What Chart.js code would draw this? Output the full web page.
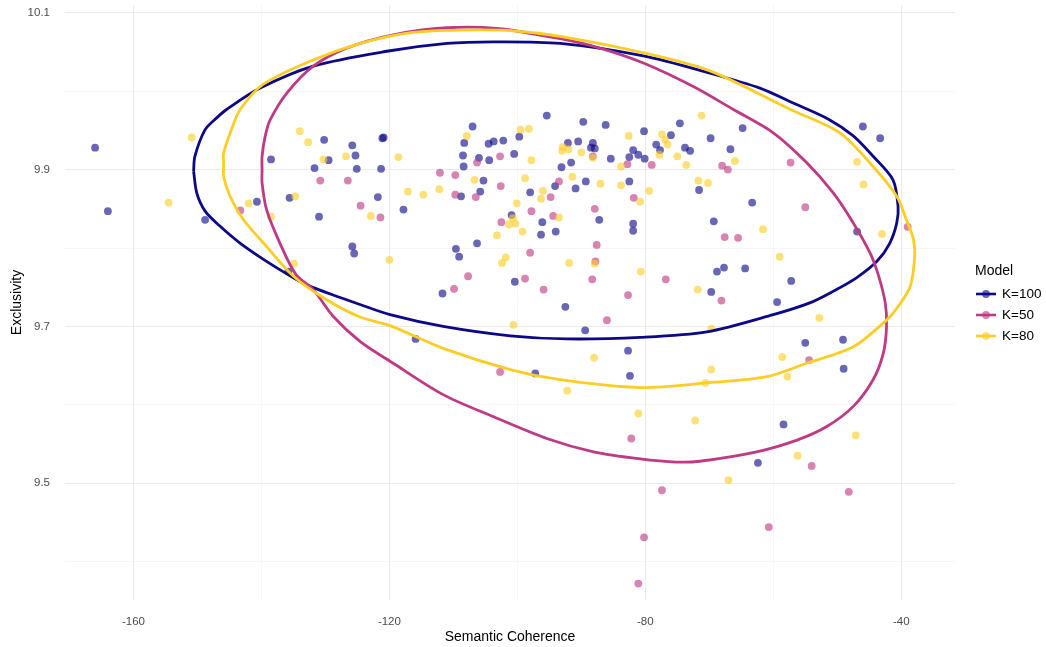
<!DOCTYPE html>
<html>
<head>
<meta charset="utf-8">
<script src="https://cdn.jsdelivr.net/npm/chart.js@4.4.0/dist/chart.umd.min.js"></script>
<style>
  body { margin: 0; background: #fff; font-family: "Liberation Sans", Arial, sans-serif; }
  #wrap { position: relative; width: 1046px; height: 647px; }
  #legend { position: absolute; left: 975px; top: 261px; }
  #legend .ttl { font-size: 14px; color: #000; height: 22px; line-height: 18px; }
  #legend .item { height: 21px; display: flex; align-items: center; font-size: 13.5px; color: #000; }
  #legend svg { margin-right: 5px; }
</style>
</head>
<body>
<div id="wrap">
  <canvas id="myChart" width="1046" height="647"></canvas>
  <div id="legend"><div class="ttl">Model</div></div>
</div>
<script>
// ---------------- data ----------------
const models = ["K=100", "K=50", "K=80"];
const colors = ["#0D0887", "#BF3984", "#FCCE25"];
const pointColors = ["rgba(13,8,135,0.62)", "rgba(191,57,132,0.62)", "rgba(252,206,37,0.62)"];

const xTicks = [-160, -140, -120, -100, -80, -60, -40];
const xLabels = [-160, -120, -80, -40];
const yTicks = [9.4, 9.5, 9.6, 9.7, 9.8, 9.9, 10.0, 10.1];
const yLabels = [9.5, 9.7, 9.9, 10.1];

// topics, K=100
const k100X = [-166.0,-130.2,-125.8,-125.3,-129.5,-138.5,-131.7,-125.1,-164.0,-140.7,
  -135.6,-148.8,-131.0,-125.8,-125.5,-135.8,-95.4,-107.0,-89.7,-86.2,
  -121.1,-120.9,-108.3,-104.5,-103.7,-102.2,-99.7,-92.1,-90.5,-88.2,
  -88.5,-87.9,-100.5,-108.5,-106.0,-104.4,-85.4,-82.5,-81.9,-81.1,
  -91.6,-93.1,-121.3,-108.4,-105.3,-89.3,-82.5,-94.1,-90.9,-105.8,
  -108.8,-98.0,-121.8,-117.8,-100.9,-96.1,-96.3,-94.0,-87.2,-81.9,
  -81.9,-106.3,-109.6,-109.1,-100.4,-111.7,-92.5,-89.4,-115.9,-82.7,
  -97.2,-82.4,-80.2,-74.6,-76.0,-78.3,-77.7,-80.1,-73.8,-73.0,
  -69.8,-64.8,-66.7,-46.0,-43.3,-71.6,-63.3,-69.3,-46.9,-68.8,
  -67.7,-64.4,-57.2,-69.7,-59.4,-55.0,-49.1,-49.0,-58.4,-62.4];
const k100Y = [9.928,9.938,9.931,9.918,9.912,9.913,9.902,9.901,9.847,9.859,
  9.864,9.836,9.840,9.802,9.793,9.770,9.969,9.955,9.961,9.957,
  9.940,9.941,9.934,9.933,9.936,9.937,9.942,9.934,9.936,9.934,
  9.928,9.927,9.920,9.918,9.915,9.912,9.914,9.916,9.925,9.919,
  9.909,9.903,9.901,9.904,9.886,9.885,9.885,9.879,9.876,9.872,
  9.866,9.871,9.865,9.849,9.842,9.833,9.817,9.821,9.836,9.831,
  9.822,9.806,9.799,9.789,9.757,9.742,9.725,9.695,9.684,9.669,
  9.640,9.637,9.949,9.959,9.944,9.932,9.925,9.914,9.928,9.924,
  9.940,9.953,9.926,9.955,9.940,9.874,9.858,9.834,9.821,9.770,
  9.775,9.774,9.758,9.744,9.731,9.679,9.683,9.646,9.575,9.526];

// topics, K=50
const k50X = [-130.8,-126.5,-143.3,-124.5,-106.3,-102.7,-88.2,-82.8,-112.1,-109.7,
  -93.5,-102.6,-109.7,-106.5,-94.8,-81.8,-121.4,-97.8,-102.5,-94.4,
  -87.9,-87.6,-98.0,-87.8,-107.7,-98.8,-88.3,-109.9,-95.9,-82.7,
  -86.0,-102.7,-82.2,-79.0,-68.0,-67.1,-57.3,-55.0,-67.6,-65.5,
  -39.0,-76.8,-68.1,-54.4,-77.4,-80.2,-81.1,-54.0,-48.2,-60.7];
const k50Y = [9.886,9.886,9.848,9.854,9.909,9.917,9.917,9.907,9.896,9.893,
  9.885,9.879,9.868,9.865,9.865,9.864,9.839,9.847,9.833,9.841,
  9.850,9.804,9.794,9.783,9.764,9.761,9.760,9.748,9.747,9.740,
  9.708,9.642,9.557,9.906,9.905,9.900,9.909,9.852,9.814,9.813,
  9.827,9.760,9.733,9.657,9.491,9.431,9.372,9.522,9.489,9.444];

// topics, K=80
const k80X = [-150.9,-134.0,-132.7,-126.8,-130.3,-154.5,-142.0,-134.7,-138.5,-134.9,
  -107.9,-99.5,-98.2,-82.6,-92.9,-93.0,-92.0,-90.0,-118.6,-97.8,
  -88.2,-83.8,-106.7,-98.8,-91.4,-87.0,-83.8,-117.1,-114.7,-112.2,
  -96.0,-96.3,-80.8,-122.9,-100.1,-100.7,-101.3,-100.3,-99.2,-93.5,
  -103.2,-120.0,-101.8,-102.4,-91.9,-87.9,-80.7,-100.6,-88.0,-92.2,
  -81.1,-71.2,-77.4,-76.9,-76.5,-77.8,-75.0,-73.6,-66.0,-46.9,
  -45.9,-71.7,-70.2,-79.4,-61.6,-43.0,-59.0,-71.8,-52.8,-69.7,
  -58.6,-69.7,-57.8,-70.6,-72.2,-47.1,-56.2,-67.0];
const k80Y = [9.941,9.949,9.935,9.917,9.913,9.858,9.857,9.866,9.840,9.780,
  9.943,9.951,9.952,9.943,9.929,9.924,9.926,9.922,9.916,9.912,
  9.915,9.904,9.887,9.889,9.891,9.882,9.880,9.872,9.868,9.875,
  9.873,9.863,9.859,9.841,9.857,9.838,9.830,9.831,9.821,9.839,
  9.816,9.785,9.788,9.781,9.781,9.780,9.770,9.702,9.660,9.618,
  9.589,9.969,9.945,9.938,9.932,9.919,9.917,9.906,9.911,9.910,
  9.881,9.886,9.883,9.873,9.824,9.818,9.789,9.747,9.711,9.697,
  9.661,9.645,9.636,9.628,9.580,9.561,9.535,9.504];

// ellipse outlines
const ell100X = [-150.6,-150.4,-148.8,-147.0,-145.4,-140.2,-131.9,-120.4,-111.0,-103.8,
  -93.3,-80.3,-69.9,-62.1,-56.9,-51.3,-47.5,-44.4,-41.3,-40.5,
  -40.7,-41.8,-43.8,-47.0,-50.6,-54.3,-60.0,-70.4,-80.8,-92.3,
  -101.1,-111.6,-119.9,-124.6,-128.8,-132.9,-135.0,-139.2,-143.3,-146.5,-148.8,-150.1];
const ell100Y = [9.898,9.917,9.951,9.966,9.977,10.004,10.032,10.051,10.061,10.063,
  10.061,10.045,10.023,10.004,9.985,9.964,9.943,9.917,9.887,9.853,
  9.832,9.806,9.783,9.762,9.745,9.730,9.715,9.693,9.686,9.684,
  9.688,9.700,9.715,9.728,9.740,9.753,9.762,9.783,9.806,9.828,9.847,9.870];

const ell50X = [-139.9,-139.9,-139.4,-138.6,-136.0,-131.9,-126.7,-119.4,-111.0,-103.2,
  -93.3,-87.1,-80.3,-72.5,-66.3,-60.0,-54.8,-50.6,-47.5,-44.9,
  -43.6,-42.5,-42.3,-42.8,-44.4,-47.5,-51.7,-56.3,-62.6,-71.5,
  -75.1,-80.8,-88.1,-95.4,-103.8,-111.6,-119.4,-124.6,-128.8,-131.9,
  -134.6,-137.1,-139.2,-139.9];
const ell50Y = [9.900,9.917,9.943,9.964,9.998,10.032,10.055,10.072,10.081,10.080,
  10.067,10.055,10.036,10.006,9.977,9.947,9.909,9.870,9.832,9.794,
  9.766,9.730,9.700,9.666,9.632,9.598,9.572,9.555,9.540,9.528,
  9.527,9.531,9.540,9.557,9.585,9.613,9.653,9.681,9.713,9.747,
  9.766,9.806,9.849,9.883];

const ell80X = [-145.9,-145.9,-144.6,-143.3,-139.7,-131.9,-124.1,-116.3,-108.4,-100.6,
  -93.3,-80.3,-69.9,-57.4,-49.6,-44.4,-40.7,-39.2,-38.1,
  -37.9,-38.6,-40.7,-42.3,-47.5,-54.8,-61.0,-70.4,-80.8,-93.3,-101.1,
  -111.6,-119.9,-124.6,-129.8,-135.0,-139.2,-142.8,-144.9,-145.9];
const ell80Y = [9.906,9.921,9.953,9.977,10.009,10.040,10.062,10.075,10.078,10.077,
  10.070,10.049,10.026,9.977,9.947,9.904,9.866,9.836,9.811,
  9.789,9.751,9.723,9.708,9.674,9.653,9.636,9.628,9.622,9.632,9.645,
  9.672,9.701,9.712,9.734,9.764,9.802,9.836,9.866,9.891];

// ---------------- chart ----------------
const pts = (xs, ys) => xs.map((x, i) => ({ x: x, y: ys[i] }));
const loop = (xs, ys) => { const p = pts(xs, ys); p.push(p[0]); return p; };

const pointSets = [pts(k100X, k100Y), pts(k50X, k50Y), pts(k80X, k80Y)];
const ellipseSets = [loop(ell100X, ell100Y), loop(ell50X, ell50Y), loop(ell80X, ell80Y)];

const datasets = [];
// ellipses on top, yellow over magenta over blue
[2, 1, 0].forEach((k, i) => {
  datasets.push({
    label: models[k] + ' ellipse',
    data: ellipseSets[k],
    showLine: true,
    pointRadius: 0,
    borderColor: colors[k],
    borderWidth: 2.8,
    tension: 0.3,
    fill: false,
    order: i + 1
  });
});
[2, 1, 0].forEach((k, i) => {
  datasets.push({
    label: models[k],
    data: pointSets[k],
    pointRadius: 3.9,
    pointBorderWidth: 0,
    backgroundColor: pointColors[k],
    order: i + 4
  });
});

const near = (v, list) => list.some(t => Math.abs(t - v) < 1e-6);

new Chart("myChart", {
  type: "scatter",
  data: { datasets: datasets },
  options: {
    responsive: false,
    animation: false,
    layout: { padding: { top: 5, right: 91, left: 0, bottom: 0 } },
    plugins: { legend: { display: false }, tooltip: { enabled: false } },
    scales: {
      x: {
        type: "linear",
        min: -170.7,
        max: -31.6,
        afterBuildTicks: s => { s.ticks = xTicks.map(v => ({ value: v })); },
        afterFit: s => { s.height = 47; s.paddingLeft = 0; s.paddingRight = 0; },
        ticks: {
          autoSkip: false, maxRotation: 0, padding: 15,
          color: "#4D4D4D", font: { size: 11.5, family: "'Liberation Sans', Arial" },
          callback: v => near(v, xLabels) ? String(v) : ""
        },
        grid: {
          drawTicks: false,
          color: c => near(c.tick.value, xLabels) ? "#EBEBEB" : "#F4F4F4",
          lineWidth: c => near(c.tick.value, xLabels) ? 1.1 : 0.8
        },
        border: { display: false },
        title: {
          display: true, text: "Semantic Coherence", color: "#000",
          font: { size: 14, family: "'Liberation Sans', Arial" },
          padding: { top: 0, bottom: 1 }
        }
      },
      y: {
        type: "linear",
        min: 9.351,
        max: 10.11,
        afterBuildTicks: s => { s.ticks = yTicks.map(v => ({ value: v })); },
        afterFit: s => { s.width = 65; s.paddingTop = 0; s.paddingBottom = 0; },
        ticks: {
          autoSkip: false, padding: 15,
          color: "#4D4D4D", font: { size: 11.5, family: "'Liberation Sans', Arial" },
          callback: v => near(v, yLabels) ? v.toFixed(1) : ""
        },
        grid: {
          drawTicks: false,
          color: c => near(c.tick.value, yLabels) ? "#EBEBEB" : "#F4F4F4",
          lineWidth: c => near(c.tick.value, yLabels) ? 1.1 : 0.8
        },
        border: { display: false },
        title: {
          display: true, text: "Exclusivity", color: "#000",
          font: { size: 14, family: "'Liberation Sans', Arial" },
          padding: { top: 9, bottom: 0 }
        }
      }
    }
  }
});

// legend, same look as ggplot's
const legend = document.getElementById("legend");
models.forEach((m, k) => {
  const row = document.createElement("div");
  row.className = "item";
  row.innerHTML = `<svg width="22" height="12"><line x1="1" y1="6" x2="21" y2="6" stroke="${colors[k]}" stroke-width="2.6"/>` +
    `<circle cx="11" cy="6" r="3.9" fill="${pointColors[k]}"/></svg>${m}`;
  legend.appendChild(row);
});
</script>
</body>
</html>
